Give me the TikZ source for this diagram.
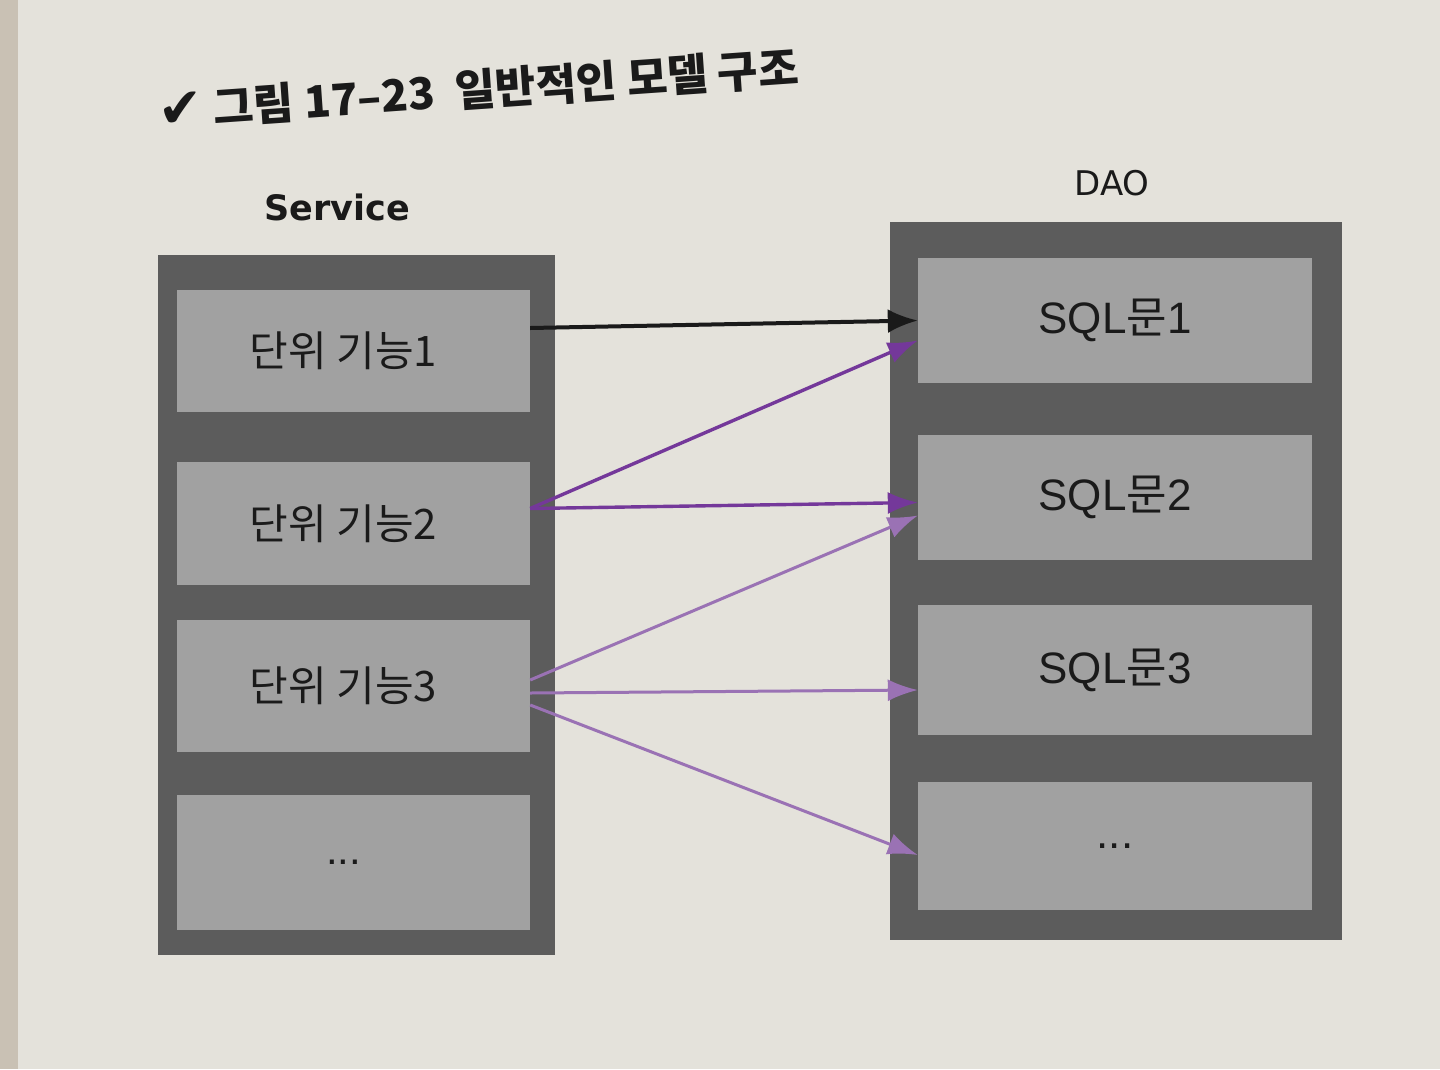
\documentclass[tikz,border=0pt]{standalone}
\usepackage{fontspec}
\setmainfont{Noto Sans CJK KR}
\newfontfamily\kr{Noto Sans CJK KR}
\newfontfamily\lat{Liberation Sans}
\newfontfamily\djv{DejaVu Sans}
\usetikzlibrary{arrows.meta}
\definecolor{paper}{HTML}{E4E2DB}
\definecolor{edge}{HTML}{C9C1B4}
\definecolor{outerg}{HTML}{5C5C5C}
\definecolor{innerg}{HTML}{A1A1A1}
\definecolor{ink}{HTML}{1A1A1A}
\definecolor{purp}{HTML}{74389A}
\definecolor{lpurp}{HTML}{9A72B4}
\tikzset{
  outerbox/.style={draw=none, fill=outerg},
  ibox/.style={draw=none, fill=innerg, text=ink, font=\kr\fontsize{42}{44}\selectfont, inner sep=0pt},
  dbox/.style={draw=none, fill=innerg, text=ink, font=\lat\fontsize{44}{46}\selectfont, inner sep=0pt},
  hdr/.style={text=ink, font=\kr\bfseries\fontsize{36}{38}\selectfont},
  blk/.style={draw=ink, line width=4pt, -{Latex[length=30pt,width=24pt]}},
  prp/.style={draw=purp, line width=3.4pt, -{Latex[length=30pt,width=22pt]}},
  lprp/.style={draw=lpurp, line width=3pt, -{Latex[length=30pt,width=22pt]}},
}
\begin{document}
\begin{tikzpicture}[x=1pt,y=-1pt]
\useasboundingbox (0,0) rectangle (1440,1069);
\fill[paper] (0,0) rectangle (1440,1069);
\fill[edge] (0,0) rectangle (18,1069);
% title
\node[text=ink, font=\kr\bfseries\fontsize{44}{46}\selectfont, rotate=4, anchor=west, inner sep=0pt] (title) at (158,112) {{\djv\fontsize{54}{56}\selectfont ✔}\ 그림 17–23\ \ 일반적인 모델 구조};
% headers
\node[hdr, font=\djv\bfseries\fontsize{35}{37}\selectfont] (svc) at (337,207) {Service};
\node[hdr, font=\djv\fontsize{34}{36}\selectfont] (dao) at (1112,183) {DAO};
% containers
\node[outerbox, minimum width=397pt, minimum height=700pt, inner sep=0pt] (scont) at (356.5,605) {};
\node[outerbox, minimum width=452pt, minimum height=718pt, inner sep=0pt] (dcont) at (1116,581) {};
% service boxes
\node[ibox, minimum width=353pt, minimum height=122pt] (s1) at (353.5,351) {\hspace*{-20pt}단위 기능1};
\node[ibox, minimum width=353pt, minimum height=123pt] (s2) at (353.5,523.5) {\hspace*{-20pt}단위 기능2};
\node[ibox, minimum width=353pt, minimum height=132pt] (s3) at (353.5,686) {\hspace*{-20pt}단위 기능3};
\node[ibox, minimum width=353pt, minimum height=135pt] (s4) at (353.5,862.5) {\hspace*{-20pt}\lat ...};
% dao boxes
\node[dbox, minimum width=394pt, minimum height=125pt] (d1) at (1115,320.5) {SQL{\kr 문}1};
\node[dbox, minimum width=394pt, minimum height=125pt] (d2) at (1115,497.5) {SQL{\kr 문}2};
\node[dbox, minimum width=394pt, minimum height=130pt] (d3) at (1115,670) {SQL{\kr 문}3};
\node[dbox, minimum width=394pt, minimum height=128pt] (d4) at (1115,846) {...};
% arrows
\draw[blk] ([yshift=23pt]s1.east) -- (d1.west);
\draw[prp] ([yshift=15pt]s2.east) -- ([yshift=-20pt]d1.west);
\draw[prp] ([yshift=15pt]s2.east) -- ([yshift=-5pt]d2.west);
\draw[lprp] ([yshift=6pt]s3.east) -- ([yshift=-18pt]d2.west);
\draw[lprp] ([yshift=-7pt]s3.east) -- ([yshift=-20pt]d3.west);
\draw[lprp] ([yshift=-19pt]s3.east) -- ([yshift=-9pt]d4.west);
\end{tikzpicture}
\end{document}
